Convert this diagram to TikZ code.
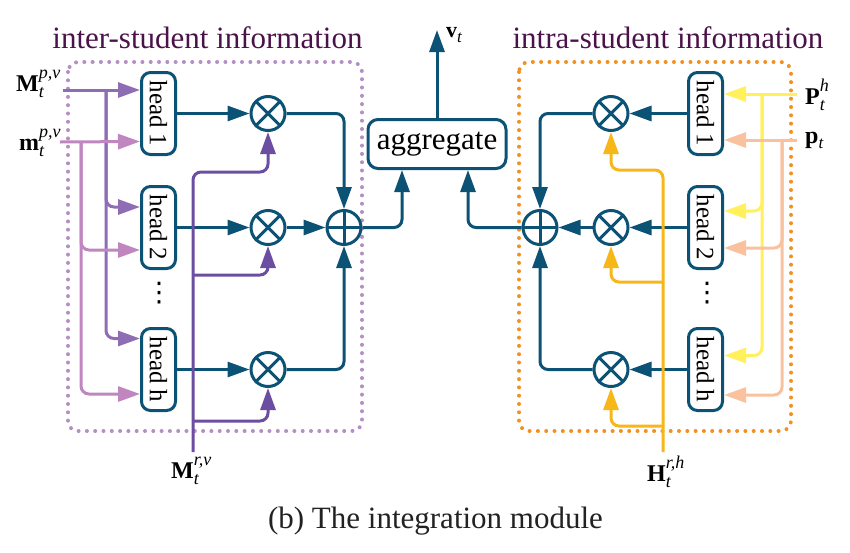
\documentclass[tikz,border=0pt]{standalone}
\usepackage{fontspec}
\usepackage{graphicx}
\setmainfont{Liberation Serif}
\newfontfamily\djv{DejaVu Sans}
\usetikzlibrary{arrows.meta}
\definecolor{blueC}{HTML}{0B5275}
\definecolor{titleC}{HTML}{4B1249}
\definecolor{leftboxC}{HTML}{B48FC4}
\definecolor{MpvC}{HTML}{8F6DB5}
\definecolor{mpvC}{HTML}{BF86BF}
\definecolor{MrvC}{HTML}{6B4DA1}
\definecolor{rightboxC}{HTML}{F2911F}
\definecolor{PC}{HTML}{FFF05C}
\definecolor{pC}{HTML}{F9C19E}
\definecolor{HC}{HTML}{F7B718}
\definecolor{capC}{HTML}{222222}
% bold letter with italic sub- and superscript
\newcommand\lab[3]{\textbf{#1}{\fontsize{18}{18}\selectfont\itshape\rlap{\raisebox{0.7em}{#3}}\raisebox{-0.35em}{#2}}}
\newcommand\labsub[2]{\textbf{#1}{\fontsize{17}{17}\selectfont\itshape\raisebox{-0.3em}{#2}}}
\begin{document}
\begin{tikzpicture}[x=1pt,y=-1pt,
  arr/.style={-{Triangle[length=22pt,width=15pt]}},
  wire/.style={line width=3pt, rounded corners=8pt},
  bl/.style={wire, draw=blueC},
  hd/.style={draw=blueC, line width=3pt, rounded corners=9pt, minimum width=34pt, minimum height=82pt, inner sep=0pt, font=\fontsize{25}{28}\selectfont},
  ot/.style={circle, draw=blueC, line width=3pt, minimum size=34pt, inner sep=0pt},
  crossline/.style={draw=blueC, line width=3pt, shorten <=1.5pt, shorten >=1.5pt},
  dotbox/.style={line width=4pt, line cap=round, dash pattern=on 0pt off 8.3pt, rounded corners=10pt},
  ttl/.style={anchor=base, text=titleC, font=\fontsize{31}{36}\selectfont},
  lbl/.style={font=\fontsize{24}{28}\selectfont, inner sep=0pt, anchor=base west},
  vd/.style={font=\djv\fontsize{27}{30}\selectfont, inner sep=0pt},
]
\useasboundingbox (0,0) rectangle (850,552);

% boxes and titles
\draw[dotbox, draw=leftboxC] (68,62) rectangle (362,431);
\draw[dotbox, draw=rightboxC] (519,62) rectangle (791,431);
\node[ttl] (tl) at (207.5,48) {inter-student information};
\node[ttl] (tr) at (668,48) {intra-student information};

% left heads
\node[hd] (h1) at (158.5,113.5) {\rotatebox{-90}{head 1}};
\node[hd] (h2) at (158.5,227.5) {\rotatebox{-90}{head 2}};
\node[hd] (hh) at (158.5,369.5) {\rotatebox{-90}{head h}};
\node[vd] (dl) at (159,293) {⋮};
% right heads
\node[hd] (r1) at (705.5,113.5) {\rotatebox{-90}{head 1}};
\node[hd] (r2) at (705.5,227.5) {\rotatebox{-90}{head 2}};
\node[hd] (rh) at (705.5,369.5) {\rotatebox{-90}{head h}};
\node[vd] (dr) at (707,293) {⋮};

% operators
\node[ot] (o1) at (268,113.5) {};
\node[ot] (o2) at (268,227.5) {};
\node[ot] (oh) at (268,369.5) {};
\node[ot] (p1) at (344,227.5) {};
\node[ot] (q1) at (611,113.5) {};
\node[ot] (q2) at (611,227.5) {};
\node[ot] (qh) at (611,369.5) {};
\node[ot] (p2) at (540,227.5) {};
\foreach \n in {o1,o2,oh,q1,q2,qh}
  \draw[crossline] (\n.45) -- (\n.225) (\n.135) -- (\n.315);
\foreach \n in {p1,p2}
  \draw[crossline] (\n.north) -- (\n.south) (\n.east) -- (\n.west);

% aggregate
\node[draw=blueC, line width=3pt, rounded corners=10pt, minimum width=138pt, minimum height=49pt, inner sep=0pt, font=\fontsize{31}{36}\selectfont] (agg) at (437,144) {aggregate};
\coordinate (vtop) at (437,30);
\node[lbl, font=\fontsize{22}{26}\selectfont] (vt) at (446,37) {\labsub{v}{t}};
\draw[bl, arr] (agg.north) -- (vtop);

% left blue connectors
\draw[bl, arr] (h1.east) -- (o1.west);
\draw[bl, arr] (h2.east) -- (o2.west);
\draw[bl, arr] (hh.east) -- (oh.west);
\draw[bl, arr] (o1.east) -| (p1.north);
\draw[bl, arr] (o2.east) -- (p1.west);
\draw[bl, arr] (oh.east) -| (p1.south);
\draw[bl, arr] (p1.east) -| ([xshift=35.5pt]agg.south west);
% right blue connectors
\draw[bl, arr] (r1.west) -- (q1.east);
\draw[bl, arr] (r2.west) -- (q2.east);
\draw[bl, arr] (rh.west) -- (qh.east);
\draw[bl, arr] (q1.west) -| (p2.north);
\draw[bl, arr] (q2.west) -- (p2.east);
\draw[bl, arr] (qh.west) -| (p2.south);
\draw[bl, arr] (p2.west) -| ([xshift=-39.5pt]agg.south east);

% left inputs
\node[lbl] (Mpv) at (16,91) {\lab{M}{t}{p,v}};
\node[lbl] (mpv) at (19,150) {\lab{m}{t}{p,v}};
\coordinate (Ms) at (63,90);
\coordinate (Mj) at (106,90);
\coordinate (ms) at (60,142);
\coordinate (mj) at (81,142);
\draw[wire, draw=MpvC, arr] (Ms) -- ([yshift=23.5pt]h1.west);
\draw[wire, draw=MpvC, arr] (Mj) |- ([yshift=20.5pt]h2.west);
\draw[wire, draw=MpvC, arr] (Mj) |- ([yshift=31pt]hh.west);
\draw[wire, draw=mpvC, arr] (mj) |- ([yshift=-22.5pt]h2.west);
\draw[wire, draw=mpvC, arr] (mj) |- ([yshift=-24.5pt]hh.west);
\draw[wire, draw=mpvC, arr] (ms) -- ([yshift=-28pt]h1.west);

% M^{r,v}
\coordinate (Mrs) at (193,452);
\coordinate (Mr1) at (193,172);
\coordinate (Mr2) at (193,275);
\coordinate (Mr3) at (193,421);
\draw[wire, draw=MrvC, arr] (Mrs) -- (Mr1) -| (o1.south);
\draw[wire, draw=MrvC, arr] (Mr2) -| (o2.south);
\draw[wire, draw=MrvC, arr] (Mr3) -| (oh.south);
\node[lbl] (Mrv) at (171,478) {\lab{M}{t}{r,v}};

% right inputs
\node[lbl] (Ph) at (805,104) {\lab{P}{t}{h}};
\node[lbl] (pt) at (805,143) {\labsub{p}{t}};
\coordinate (Ps) at (797,94);
\coordinate (Pj) at (762,94);
\coordinate (ps) at (797,140);
\coordinate (pj) at (782,140);
\draw[wire, draw=PC, arr] (Ps) -- ([yshift=19.5pt]r1.east);
\draw[wire, draw=PC, arr] (Pj) |- ([yshift=16.5pt]r2.east);
\draw[wire, draw=PC, arr] (Pj) |- ([yshift=14pt]rh.east);
\draw[wire, draw=pC, arr] (ps) -- ([yshift=-26.5pt]r1.east);
\draw[wire, draw=pC, arr] (pj) |- ([yshift=-20.5pt]r2.east);
\draw[wire, draw=pC, arr] (pj) |- ([yshift=-25.5pt]rh.east);

% H^{r,h}
\coordinate (Hs) at (663,452);
\coordinate (H1) at (663,170);
\coordinate (H2) at (663,282);
\coordinate (H3) at (663,426);
\draw[wire, draw=HC, arr] (Hs) -- (H1) -| (q1.south);
\draw[wire, draw=HC, arr] (H2) -| (q2.south);
\draw[wire, draw=HC, arr] (H3) -| (qh.south);
\node[lbl] (Hrh) at (647,481) {\lab{H}{t}{r,h}};

% caption
\node[anchor=base, text=capC, font=\fontsize{31}{36}\selectfont] (cap) at (435.5,528) {(b) The integration module};
\end{tikzpicture}
\end{document}
